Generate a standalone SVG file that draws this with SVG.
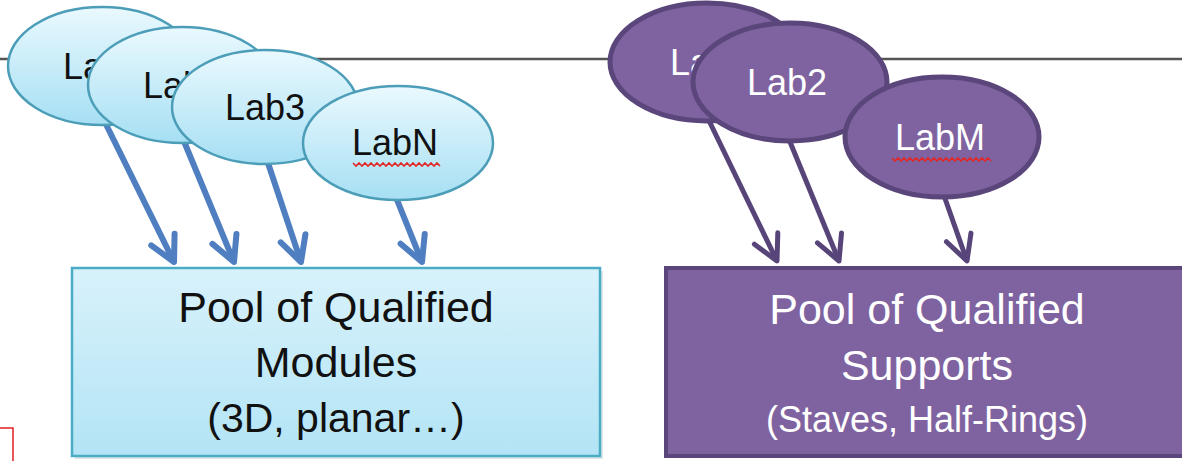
<svg xmlns="http://www.w3.org/2000/svg" width="1182" height="461" viewBox="0 0 1182 461">
<style>
.lbl{font-family:"Liberation Sans",Arial,sans-serif;font-size:36px;text-anchor:middle}
.blk{fill:#111}
.wht{fill:#fff}
.bell{fill:url(#gBlueEll);stroke:#4C9DB8;stroke-width:2.5}
.pell{fill:#7F63A1;stroke:#5A467A;stroke-width:5}
.barr{stroke:#4F7FC0;stroke-width:6;fill:none;marker-end:url(#mBlue)}
.parr{stroke:#574479;stroke-width:5;fill:none;marker-end:url(#mPurple)}
.big{font-family:"Liberation Sans",Arial,sans-serif;font-size:43px;text-anchor:middle}
.sq{fill:none;stroke:#E02828;stroke-width:1.6}
</style>
<defs>
<linearGradient id="gBlueEll" x1="0" y1="0" x2="0" y2="1">
<stop offset="0" stop-color="#EAF9FE"/>
<stop offset="1" stop-color="#A6DFF3"/>
</linearGradient>
<linearGradient id="gBlueRect" x1="0" y1="0" x2="0" y2="1">
<stop offset="0" stop-color="#D8F2FB"/>
<stop offset="1" stop-color="#B3E4F5"/>
</linearGradient>
<marker id="mBlue" viewBox="-32 -20 40 40" refX="0" refY="0" markerWidth="40" markerHeight="40" markerUnits="userSpaceOnUse" orient="auto">
<path d="M-25,-13 L0,0 L-25,13" fill="none" stroke="#4F7FC0" stroke-width="6" stroke-linejoin="round" stroke-linecap="round"/>
</marker>
<marker id="mPurple" viewBox="-32 -20 40 40" refX="0" refY="0" markerWidth="40" markerHeight="40" markerUnits="userSpaceOnUse" orient="auto">
<path d="M-25,-13 L0,0 L-25,13" fill="none" stroke="#574479" stroke-width="5" stroke-linejoin="round" stroke-linecap="round"/>
</marker>
</defs>
<rect x="0" y="0" width="1182" height="461" fill="#fff"/>
<line x1="0" y1="59" x2="1182" y2="59" stroke="#555" stroke-width="2.5"/>
<g id="connectors">
<line class="barr" x1="94" y1="100" x2="174" y2="262"/>
<line class="barr" x1="171" y1="110" x2="234" y2="262"/>
<line class="barr" x1="257" y1="130" x2="301" y2="262"/>
<line class="barr" x1="385" y1="170" x2="422" y2="262"/>
<line class="parr" x1="699" y1="100" x2="777" y2="261"/>
<line class="parr" x1="781" y1="120" x2="839" y2="261"/>
<line class="parr" x1="935" y1="170" x2="967" y2="261"/>
</g>
<g id="pool-modules">
<rect x="75" y="271" width="528" height="188" fill="#9BB" opacity="0.35"/>
<rect x="72" y="268" width="528" height="188" fill="url(#gBlueRect)" stroke="#4BACC6" stroke-width="2.5"/>
<text class="big blk" x="336" y="322">Pool of Qualified</text>
<text class="big blk" x="336" y="377">Modules</text>
<text class="big blk" x="336" y="432" style="font-size:41px">(3D, planar…)</text>
</g>
<g id="pool-supports">
<rect x="666" y="268" width="530" height="188" fill="#7F63A1" stroke="#5A467A" stroke-width="4"/>
<text class="big wht" x="927" y="324">Pool of Qualified</text>
<text class="big wht" x="927" y="380">Supports</text>
<text class="big wht" x="927" y="432" style="font-size:36px">(Staves, Half-Rings)</text>
</g>
<g id="lab1-blue">
<ellipse class="bell" cx="102" cy="66" rx="94" ry="59"/>
<text class="lbl blk" x="103" y="79">Lab1</text>
</g>
<g id="lab2-blue">
<ellipse class="bell" cx="182" cy="85" rx="94" ry="58"/>
<text class="lbl blk" x="183" y="98">Lab2</text>
</g>
<g id="lab3-blue">
<ellipse class="bell" cx="265" cy="107" rx="93" ry="57"/>
<text class="lbl blk" x="265" y="120">Lab3</text>
</g>
<g id="labN-blue">
<ellipse class="bell" cx="398" cy="143" rx="95" ry="57"/>
<text class="lbl blk" x="395" y="155">LabN</text>
<polyline class="sq" points="353,163 356,166 359,163 362,166 365,163 368,166 371,163 374,166 377,163 380,166 383,163 386,166 389,163 392,166 395,163 398,166 401,163 404,166 407,163 410,166 413,163 416,166 419,163 422,166 425,163 428,166 431,163 434,166 437,163 440,166"/>
</g>
<g id="lab1-purple">
<ellipse class="pell" cx="707" cy="62" rx="97" ry="59"/>
<text class="lbl wht" x="710" y="75">Lab1</text>
</g>
<g id="lab2-purple">
<ellipse class="pell" cx="790" cy="82" rx="97" ry="59"/>
<text class="lbl wht" x="787" y="95">Lab2</text>
</g>
<g id="labM-purple">
<ellipse class="pell" cx="942" cy="137" rx="97" ry="60"/>
<text class="lbl wht" x="940" y="150">LabM</text>
<polyline class="sq" points="892,158 895,161 898,158 901,161 904,158 907,161 910,158 913,161 916,158 919,161 922,158 925,161 928,158 931,161 934,158 937,161 940,158 943,161 946,158 949,161 952,158 955,161 958,158 961,161 964,158 967,161 970,158 973,161 976,158 979,161 982,158 985,161 988,158 991,161"/>
</g>
<path d="M0,428 L13,428 L13,461" fill="none" stroke="#E02020" stroke-width="1.5"/>
</svg>
